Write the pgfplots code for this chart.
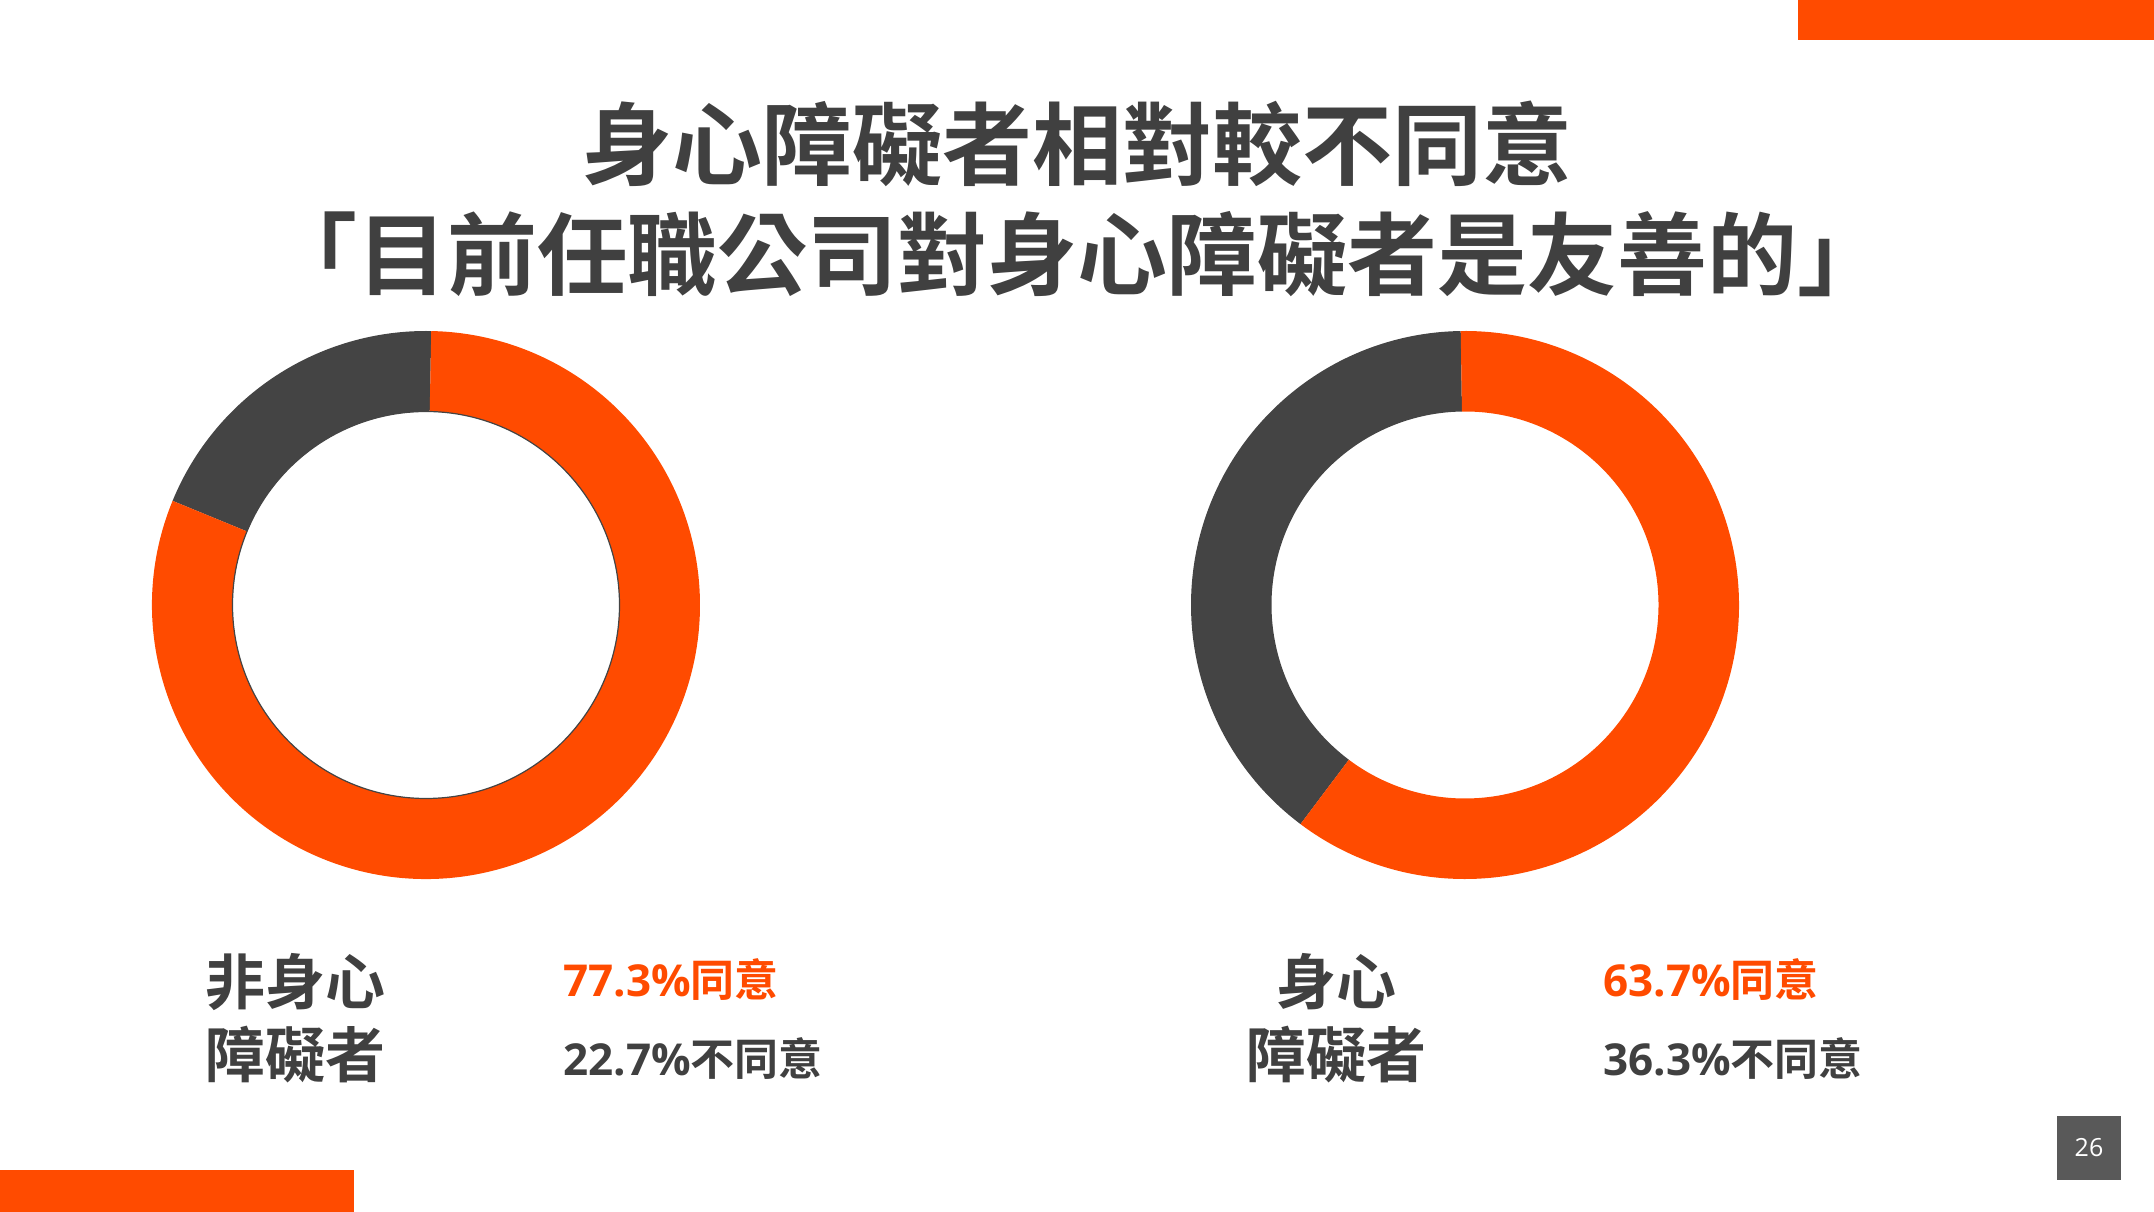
\documentclass[border=0pt]{standalone}
\usepackage{fontspec}
\usepackage{pgfplots}
\usepackage{pgfplotstable}
\pgfplotsset{compat=1.18}
\setmainfont{Open Sans}
\newfontfamily\cjk{Noto Sans CJK TC}[BoldFont={Noto Sans CJK TC Bold}]
\newfontfamily\num{Open Sans}

\definecolor{brand}{RGB}{255,75,0}
\definecolor{ink}{RGB}{64,64,64}
\definecolor{ring}{RGB}{68,68,68}
\definecolor{pagebox}{RGB}{89,89,89}

% donut centres in px (y up), start angle of the dark slice, shares as drawn
\pgfplotstableread{
side cx    cy  start disagree agree
0    426   607 88.9  19.1     80.9
1    1465  607 90.9  39.5     60.5
}\donuts

\pgfplotstablegetelem{0}{cx}\of\donuts \let\Lx\pgfplotsretval
\pgfplotstablegetelem{0}{cy}\of\donuts \let\Ly\pgfplotsretval
\pgfplotstablegetelem{0}{start}\of\donuts \let\Ls\pgfplotsretval
\pgfplotstablegetelem{0}{disagree}\of\donuts \let\Ld\pgfplotsretval
\pgfplotstablegetelem{1}{cx}\of\donuts \let\Rx\pgfplotsretval
\pgfplotstablegetelem{1}{cy}\of\donuts \let\Ry\pgfplotsretval
\pgfplotstablegetelem{1}{start}\of\donuts \let\Rs\pgfplotsretval
\pgfplotstablegetelem{1}{disagree}\of\donuts \let\Rd\pgfplotsretval
\pgfmathsetmacro\Lm{\Ls+3.6*\Ld}
\pgfmathsetmacro\Le{\Ls+360}
\pgfmathsetmacro\Rm{\Rs+3.6*\Rd}
\pgfmathsetmacro\Re{\Rs+360}

\newcommand\ro{137bp}
\newcommand\ri{96.75bp}
\newcommand\rw{40.25bp}
% #1 colour, #2 cx, #3 cy, #4 from angle, #5 to angle
\newcommand\sector[5]{%
  \fill[#1] (axis cs:#2,#3) ++(#4:\ro) arc[start angle=#4, end angle=#5, radius=\ro]
    -- ++(#5:-\rw) arc[start angle=#5, end angle=#4, radius=\ri] -- cycle;}

\begin{document}
\begin{tikzpicture}
\path[use as bounding box] (0,0) rectangle (1077bp,606bp);
\begin{axis}[
    at={(0,0)}, anchor=south west, scale only axis,
    width=1077bp, height=606bp,
    xmin=0, xmax=2154, ymin=0, ymax=1212,
    hide axis, clip=false
]
\addplot[draw=none, mark=none] table[x=cx, y=cy] {\donuts};

% corner bars and page number
\fill[brand] (axis cs:1798,1172) rectangle (axis cs:2154,1212);
\fill[brand] (axis cs:0,0) rectangle (axis cs:354,42);
\fill[pagebox] (axis cs:2057,32) rectangle (axis cs:2121,96);
\node[text=white, inner sep=0, font={\num\fontsize{12.5bp}{14bp}\selectfont}] at (axis cs:2089,64) {26};

% title
\node[text=ink, inner sep=0, font={\cjk\bfseries\fontsize{45bp}{54bp}\selectfont}]
  at (axis cs:1077,1068) {身心障礙者相對較不同意};
\node[text=ink, inner sep=0, font={\cjk\bfseries\fontsize{45bp}{54bp}\selectfont}]
  at (axis cs:1077,958) {「目前任職公司對身心障礙者是友善的」};

% donuts
\sector{ring}{\Lx}{\Ly}{\Ls}{\Lm}
\sector{brand}{\Lx}{\Ly}{\Lm}{\Le}
\draw[ring, line width=0.6bp] (axis cs:\Lx,\Ly) circle[radius=\ri];
\sector{ring}{\Rx}{\Ry}{\Rs}{\Rm}
\sector{brand}{\Rx}{\Ry}{\Rm}{\Re}

% group names
\node[text=ink, inner sep=0, font={\cjk\bfseries\fontsize{30bp}{36bp}\selectfont}]
  at (axis cs:295,230) {非身心};
\node[text=ink, inner sep=0, font={\cjk\bfseries\fontsize{30bp}{36bp}\selectfont}]
  at (axis cs:295,157) {障礙者};
\node[text=ink, inner sep=0, font={\cjk\bfseries\fontsize{30bp}{36bp}\selectfont}]
  at (axis cs:1336,230) {身心};
\node[text=ink, inner sep=0, font={\cjk\bfseries\fontsize{30bp}{36bp}\selectfont}]
  at (axis cs:1336,157) {障礙者};

% shares
\node[text=brand, anchor=west, inner sep=0, font={\fontsize{22bp}{26bp}\selectfont}]
  at (axis cs:563,232) {{\num\bfseries 77.3\%}{\cjk\bfseries 同意}};
\node[text=ink, anchor=west, inner sep=0, font={\fontsize{22bp}{26bp}\selectfont}]
  at (axis cs:563,153) {{\num\bfseries 22.7\%}{\cjk\bfseries 不同意}};
\node[text=brand, anchor=west, inner sep=0, font={\fontsize{22bp}{26bp}\selectfont}]
  at (axis cs:1603,232) {{\num\bfseries 63.7\%}{\cjk\bfseries 同意}};
\node[text=ink, anchor=west, inner sep=0, font={\fontsize{22bp}{26bp}\selectfont}]
  at (axis cs:1603,153) {{\num\bfseries 36.3\%}{\cjk\bfseries 不同意}};
\end{axis}
\end{tikzpicture}
\end{document}
